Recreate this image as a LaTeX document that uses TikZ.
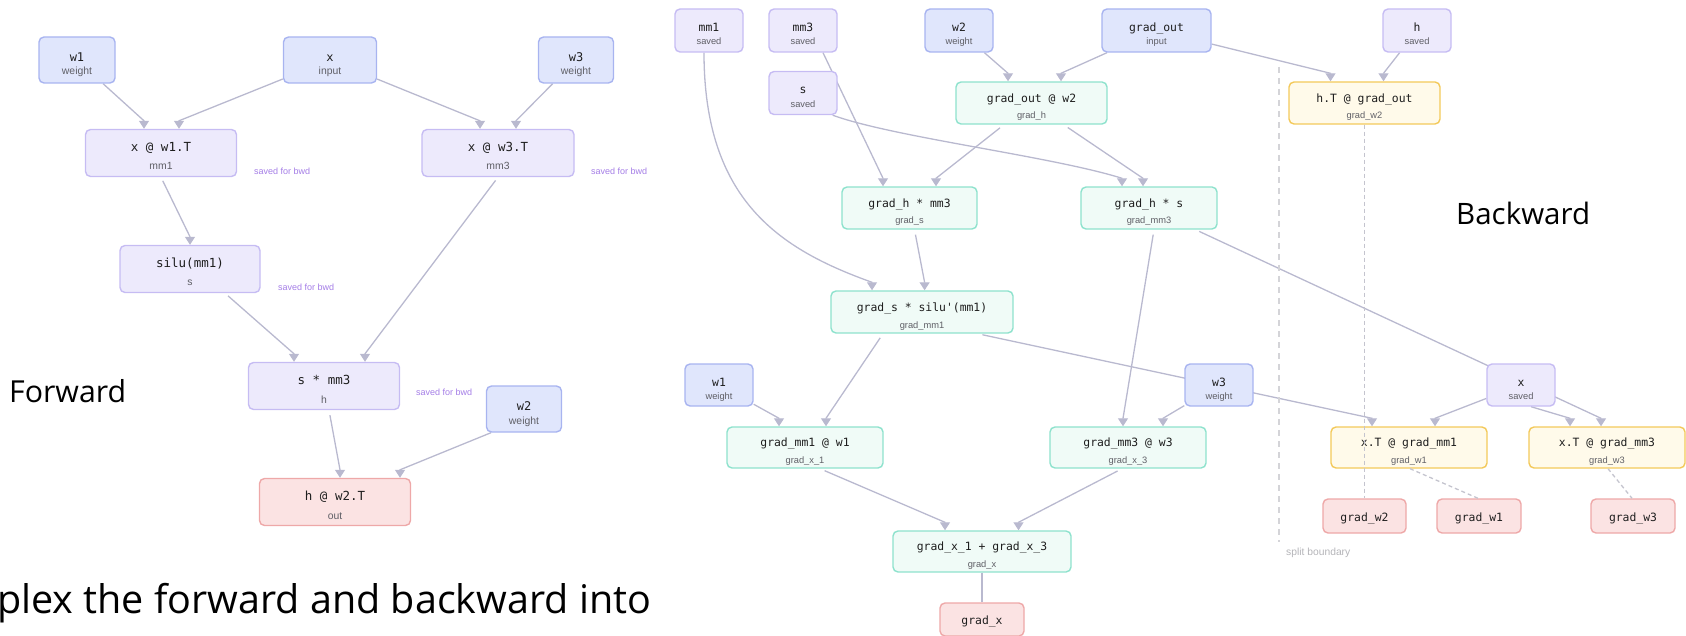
\documentclass[tikz,border=0pt]{standalone}
\usepackage{fontspec}
\setmainfont{Liberation Sans}
\setmonofont{DejaVu Sans Mono}
\newfontfamily\slidefont{Open Sans}
\usetikzlibrary{arrows.meta}
\usetikzlibrary{backgrounds}

\definecolor{opfill}{HTML}{EDEAFC}
\definecolor{opline}{HTML}{C6BCF3}
\definecolor{infill}{HTML}{E0E6FC}
\definecolor{inline}{HTML}{A8B4F0}
\definecolor{gradfill}{HTML}{F0FBF7}
\definecolor{gradline}{HTML}{8EE2CD}
\definecolor{wfill}{HTML}{FFFAEA}
\definecolor{wline}{HTML}{F3C95A}
\definecolor{resfill}{HTML}{FBE3E3}
\definecolor{resline}{HTML}{EEA8A8}
\definecolor{edgecol}{HTML}{B9B9CF}
\definecolor{dashcol}{HTML}{C4C4CE}
\definecolor{splitcol}{HTML}{D4D4D8}
\definecolor{splittxt}{HTML}{B4B4B8}
\definecolor{notecol}{HTML}{A47DE6}
\definecolor{monotext}{HTML}{1E1E1E}
\definecolor{subgray}{HTML}{5F5F66}

% two line labels: code on top, tensor name below
\newcommand{\fwdlbl}[2]{\rule{0pt}{18.5pt}#1\\{\fontsize{10.4}{10.4}\selectfont\normalfont\color{subgray}#2}\rule[-3pt]{0pt}{3pt}}
\newcommand{\inlbl}[2]{\rule{0pt}{19pt}#1\\{\fontsize{10.4}{10.4}\selectfont\normalfont\color{subgray}#2}\rule[-2.5pt]{0pt}{2.5pt}}
\newcommand{\bwdlbl}[2]{\rule{0pt}{17.7pt}#1\\{\fontsize{9.3}{9.3}\selectfont\normalfont\color{subgray}#2}\rule[-2.5pt]{0pt}{2.5pt}}
\newcommand{\smlbl}[2]{\rule{0pt}{18pt}#1\\{\fontsize{9.3}{9.3}\selectfont\normalfont\color{subgray}#2}\rule[-2.5pt]{0pt}{2.5pt}}

\tikzset{
  boxbase/.style={draw, rounded corners=5pt, line width=1.4pt, inner sep=0pt, align=center, text=monotext},
  fwdop/.style={boxbase, fill=opfill, draw=opline, minimum width=151, minimum height=47,
    font=\fontsize{12.5}{18.5}\selectfont\ttfamily},
  fwdout/.style={fwdop, fill=resfill, draw=resline},
  fwdin/.style={boxbase, fill=infill, draw=inline, minimum width=75, minimum height=46,
    font=\fontsize{12}{13.5}\selectfont\ttfamily},
  bwdop/.style={boxbase, fill=gradfill, draw=gradline, minimum width=151, minimum height=42,
    font=\fontsize{11.4}{16.8}\selectfont\ttfamily},
  bwdw/.style={bwdop, fill=wfill, draw=wline},
  savednode/.style={boxbase, fill=opfill, draw=opline, minimum width=68, minimum height=43,
    font=\fontsize{11.4}{13.5}\selectfont\ttfamily},
  bwdin/.style={savednode, fill=infill, draw=inline},
  resnode/.style={boxbase, fill=resfill, draw=resline, minimum width=84, minimum height=34,
    text height=10pt, text depth=0pt, font=\fontsize{11.4}{13.5}\selectfont\ttfamily},
  savednote/.style={inner sep=0pt, anchor=west, text=notecol, font=\fontsize{9}{9}\selectfont},
  flow/.style={draw=edgecol, line width=1.3pt, -{Triangle[width=10pt,length=8pt]}},
  plainlink/.style={draw=edgecol, line width=1.3pt},
  outlink/.style={draw=dashcol, line width=1.3pt, dash pattern=on 4pt off 3pt},
  splitline/.style={draw=splitcol, line width=1.4pt, dash pattern=on 6pt off 5pt},
  slidetext/.style={inner sep=0pt, anchor=base west, text=black, font=\slidefont\fontsize{29.5}{30}\selectfont}
}

\begin{document}
\begin{tikzpicture}[x=1pt, y=-1pt]

\useasboundingbox (0,0) rectangle (1686,636);

% forward graph
\node[fwdin, minimum width=76] (w1f) at (77,60) {\inlbl{w1}{weight}};
\node[fwdin, minimum width=93] (xf) at (330,60) {\inlbl{x}{input}};
\node[fwdin] (w3f) at (576,60) {\inlbl{w3}{weight}};
\node[fwdop] (mm1f) at (161,153) {\fwdlbl{x @ w1.T}{mm1}};
\node[fwdop, minimum width=152] (mm3f) at (498,153) {\fwdlbl{x @ w3.T}{mm3}};
\node[fwdop, minimum width=140] (siluf) at (190,269) {\fwdlbl{silu(mm1)}{s}};
\node[fwdop] (hf) at (324,386) {\fwdlbl{s * mm3}{h}};
\node[fwdin] (w2f) at (524,409) {\inlbl{w2}{weight}};
\node[fwdout] (outf) at (335,502) {\fwdlbl{h @ w2.T}{out}};

% saved for bwd notes
\node[savednote] (sv1) at (254,171) {saved for bwd};
\node[savednote] (sv3) at (591,171) {saved for bwd};
\node[savednote] (svs) at (278,287) {saved for bwd};
\node[savednote] (svh) at (416,392) {saved for bwd};

% backward inputs
\node[savednode] (mm1s) at (709,30.5) {\smlbl{mm1}{saved}};
\node[savednode] (mm3s) at (803,30.5) {\smlbl{mm3}{saved}};
\node[savednode] (ss) at (803,93) {\smlbl{s}{saved}};
\node[bwdin] (w2b) at (959,30.5) {\smlbl{w2}{weight}};
\node[bwdin, minimum width=109] (goutb) at (1156.5,30.5) {\smlbl{grad\_out}{input}};
\node[savednode] (hs) at (1417,30.5) {\smlbl{h}{saved}};

% backward ops
\node[bwdop] (gh) at (1031.5,103) {\bwdlbl{grad\_out @ w2}{grad\_h}};
\node[bwdw] (gw2) at (1364.5,103) {\bwdlbl{h.T @ grad\_out}{grad\_w2}};
\node[bwdop, minimum width=135] (gs) at (909.5,208) {\bwdlbl{grad\_h * mm3}{grad\_s}};
\node[bwdop, minimum width=136] (gmm3) at (1149,208) {\bwdlbl{grad\_h * s}{grad\_mm3}};
\node[bwdop, minimum width=182] (gmm1) at (922,312) {\bwdlbl{grad\_s * silu'(mm1)}{grad\_mm1}};
\node[bwdin, minimum height=42] (w1b) at (719,385) {\smlbl{w1}{weight}};
\node[bwdin, minimum height=42] (w3b) at (1219,385) {\smlbl{w3}{weight}};
\node[savednode, minimum height=42] (xs) at (1521,385) {\smlbl{x}{saved}};
\node[bwdop, minimum width=156, minimum height=41] (gx1) at (805,447.5) {\bwdlbl{grad\_mm1 @ w1}{grad\_x\_1}};
\node[bwdop, minimum width=156, minimum height=41] (gx3) at (1128,447.5) {\bwdlbl{grad\_mm3 @ w3}{grad\_x\_3}};
\node[bwdw, minimum width=156, minimum height=41] (gw1) at (1409,447.5) {\bwdlbl{x.T @ grad\_mm1}{grad\_w1}};
\node[bwdw, minimum width=156, minimum height=41] (gw3) at (1607,447.5) {\bwdlbl{x.T @ grad\_mm3}{grad\_w3}};
\node[bwdop, minimum width=178, minimum height=41] (gxs) at (982,551.5) {\bwdlbl{grad\_x\_1 + grad\_x\_3}{grad\_x}};

% outputs
\node[resnode, minimum width=83] (ow2) at (1364.5,516) {grad\_w2};
\node[resnode] (ow1) at (1479,516) {grad\_w1};
\node[resnode] (ow3) at (1633,516) {grad\_w3};
\node[resnode, minimum height=33] (ox) at (982,619.5) {grad\_x};

% slide text
\node[slidetext, font=\slidefont\fontsize{30.3}{31}\selectfont] (fwdtitle) at (9,402) {Forward};
\node[slidetext] (bwdtitle) at (1456,225) {Backward};
\node[slidetext, font=\slidefont\fontsize{39.5}{40}\selectfont] (caption) at (-3,613) {plex the forward and backward into};

\begin{pgfonlayer}{background}
% forward edges
\draw[flow] (w1f) -- ([shift={(-17,-8)}]mm1f.north) -- ([xshift=-17]mm1f.north);
\draw[flow] (xf) -- ([shift={(18,-8)}]mm1f.north) -- ([xshift=18]mm1f.north);
\draw[flow] (xf) -- ([shift={(-18,-8)}]mm3f.north) -- ([xshift=-18]mm3f.north);
\draw[flow] (w3f) -- ([shift={(18,-8)}]mm3f.north) -- ([xshift=18]mm3f.north);
\draw[flow, shorten <=4pt] (mm1f.south) -- ([shift={(0,-8)}]siluf.north) -- (siluf.north);
\draw[flow, shorten <=4pt] (mm3f.south) -- ([shift={(41,-8)}]hf.north) -- ([xshift=41]hf.north);
\draw[flow, shorten <=4pt] ([xshift=35]siluf.south) -- ([shift={(-30,-8)}]hf.north) -- ([xshift=-30]hf.north);
\draw[flow, shorten <=5pt] ([xshift=5]hf.south) -- ([shift={(5,-8)}]outf.north) -- ([xshift=5]outf.north);
\draw[flow] ([xshift=-33]w2f.south) -- ([shift={(65,-8)}]outf.north) -- ([xshift=65]outf.north);

% backward edges
\draw[flow] (w2b) -- ([shift={(-23.5,-8)}]gh.north) -- ([xshift=-23.5]gh.north);
\draw[flow] (goutb) -- ([shift={(29.5,-8)}]gh.north) -- ([xshift=29.5]gh.north);
\draw[flow] (goutb) -- ([shift={(-34,-8)}]gw2.north) -- ([xshift=-34]gw2.north);
\draw[flow] (hs) -- ([shift={(19,-8)}]gw2.north) -- ([xshift=19]gw2.north);
\draw[flow] ([xshift=20]mm3s.south) -- ([shift={(-26.5,-8)}]gs.north) -- ([xshift=-26.5]gs.north);
\draw[flow, shorten <=5pt] (gh) -- ([shift={(26.5,-8)}]gs.north) -- ([xshift=26.5]gs.north);
\draw[flow] ([xshift=-5]ss.south east) .. controls ([shift={(55,22)}]ss.south east) and ([shift={(-97,-30)}]gmm3.north) .. ([shift={(-27,-8)}]gmm3.north) -- ([xshift=-27]gmm3.north);
\draw[flow, shorten <=5pt] (gh) -- ([shift={(-6,-8)}]gmm3.north) -- ([xshift=-6]gmm3.north);
\draw[flow] ([xshift=-5]mm1s.south) .. controls ([shift={(-5,148)}]mm1s.south) and ([shift={(-142,-41)}]gmm1.north) .. ([shift={(-50,-8)}]gmm1.north) -- ([xshift=-50]gmm1.north);
\draw[flow, shorten <=5pt] ([xshift=5]gs.south) -- ([shift={(2.6,-8)}]gmm1.north) -- ([xshift=2.6]gmm1.north);
\draw[flow, shorten <=5pt] ([xshift=5]gmm3.south) -- ([shift={(-5,-8)}]gx3.north) -- ([xshift=-5]gx3.north);
\draw[flow, shorten <=4pt] (gmm3) -- ([shift={(-6,-8)}]gw3.north) -- ([xshift=-6]gw3.north);
\draw[flow, shorten <=5pt] ([xshift=-39]gmm1.south) -- ([shift={(21,-8)}]gx1.north) -- ([xshift=21]gx1.north);
\draw[flow] (w1b) -- ([shift={(-26,-8)}]gx1.north) -- ([xshift=-26]gx1.north);
\draw[flow, shorten <=5pt] ([xshift=55.5]gmm1.south) -- ([shift={(-37,-8)}]gw1.north) -- ([xshift=-37]gw1.north);
\draw[flow] (w3b) -- ([shift={(35,-8)}]gx3.north) -- ([xshift=35]gx3.north);
\draw[flow] (xs) -- ([shift={(26,-8)}]gw1.north) -- ([xshift=26]gw1.north);
\draw[flow] ([xshift=10]xs.south) -- ([shift={(-37,-8)}]gw3.north) -- ([xshift=-37]gw3.north);
\draw[flow, shorten <=5pt] ([xshift=15]gx1.south) -- ([shift={(-37,-8)}]gxs.north) -- ([xshift=-37]gxs.north);
\draw[flow, shorten <=5pt] ([xshift=-6]gx3.south) -- ([shift={(36.5,-8)}]gxs.north) -- ([xshift=36.5]gxs.north);
\draw[plainlink] (gxs) -- (ox);
\end{pgfonlayer}

% weight grads go out through the split
\draw[outlink] (gw2) -- (ow2);
\draw[outlink] ([xshift=1]gw1.south) -- ([xshift=-1]ow1.north);
\draw[outlink] ([xshift=1]gw3.south) -- ([xshift=-1]ow3.north);

% split boundary
\coordinate (splittop) at (1279,67);
\coordinate (splitbot) at (1279,542);
\draw[splitline] (splittop) -- (splitbot);
\node[savednote, text=splittxt, font=\fontsize{10.3}{10.3}\selectfont] (splitlbl) at (1286,553) {split boundary};

\end{tikzpicture}
\end{document}
